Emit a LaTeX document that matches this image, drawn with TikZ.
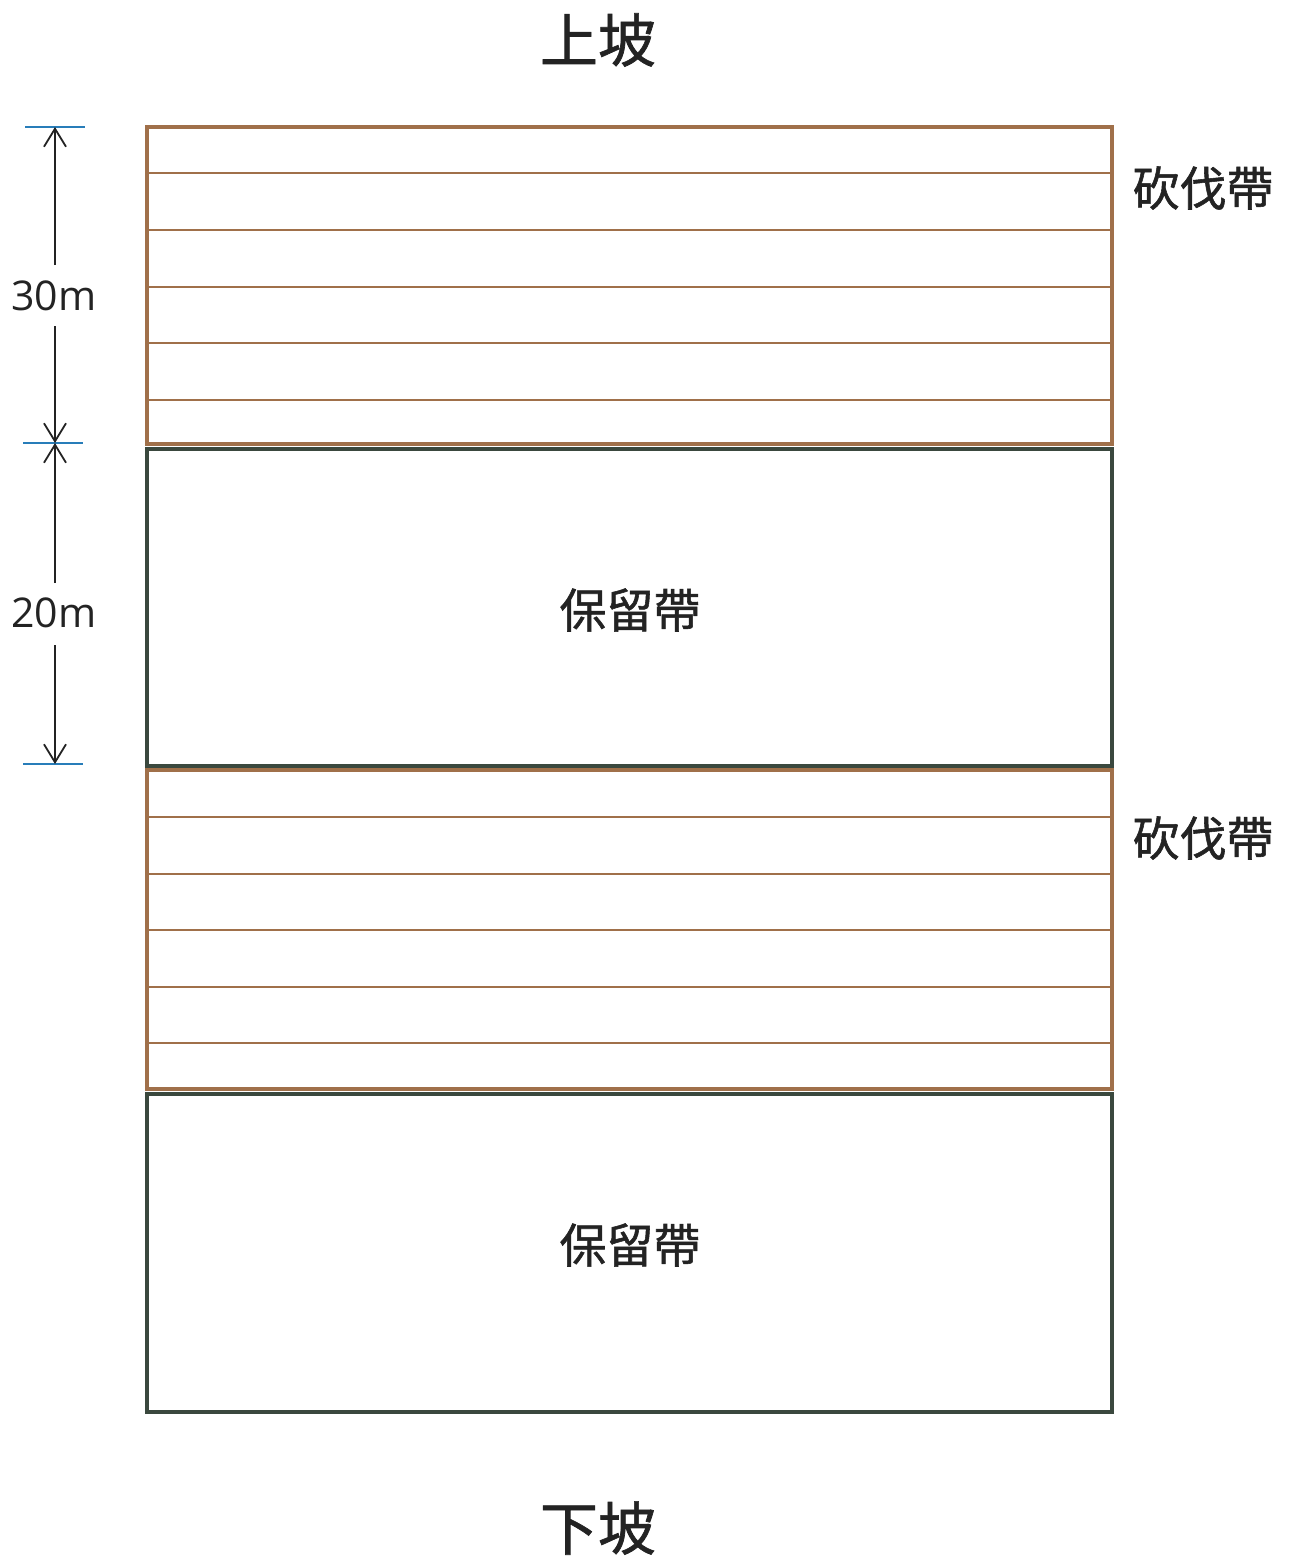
\documentclass[tikz,border=0pt]{standalone}
\usepackage{fontspec}
\newfontfamily\cjk[AutoFakeBold=1.2]{Noto Sans CJK TC}
\setsansfont{Open Sans}
\usetikzlibrary{arrows.meta}
\definecolor{cutbrown}{RGB}{160,112,74}
\definecolor{keepdark}{RGB}{58,72,62}
\definecolor{tickblue}{RGB}{40,125,185}
\definecolor{inkgray}{RGB}{35,35,35}
\tikzset{
  cutzone/.style={draw=cutbrown, line width=3.5pt},
  cutline/.style={draw=cutbrown, line width=1.5pt},
  keepzone/.style={draw=keepdark, line width=3.5pt},
  bigtitle/.style={font=\cjk\bfseries\fontsize{58}{60}\selectfont, text=inkgray, inner sep=0pt},
  zonelabel/.style={font=\cjk\bfseries\fontsize{47}{50}\selectfont, text=inkgray, inner sep=0pt},
  dimlabel/.style={font=\sffamily\fontsize{41}{44}\selectfont, text=inkgray, inner sep=0pt},
  dimtick/.style={draw=tickblue, line width=2pt},
  dimarrow/.style={draw=inkgray, line width=1.8pt, -{Straight Barb[length=18pt,width=22pt,line width=1.8pt]}},
}
\begin{document}
\begin{tikzpicture}[x=1pt,y=-1pt]
\useasboundingbox (0,0) rectangle (1289,1562);
% zones
\draw[cutzone] (147,127) rectangle (1112,444);
\foreach \yy in {173,230,287,343,400} \draw[cutline] (148,\yy) -- (1111,\yy);
\draw[keepzone] (147,449) rectangle (1112,766);
\draw[cutzone] (147,770) rectangle (1112,1089);
\foreach \yy in {817,874,930,987,1043} \draw[cutline] (148,\yy) -- (1111,\yy);
\draw[keepzone] (147,1094) rectangle (1112,1412);
% texts
\node[bigtitle] (up) at (598,40) {上坡};
\node[bigtitle] (down) at (598,1528) {下坡};
\node[zonelabel] (cut1) at (1203,188) {砍伐帶};
\node[zonelabel] (cut2) at (1203,838) {砍伐帶};
\node[zonelabel] (keep1) at (630,610) {保留帶};
\node[zonelabel] (keep2) at (630,1245) {保留帶};
% dimensions
\coordinate (t1) at (55,127);
\coordinate (t2) at (55,443);
\coordinate (t3) at (55,764);
\draw[dimtick] (25,127) -- (85,127);
\draw[dimtick] (23,443) -- (83,443);
\draw[dimtick] (23,764) -- (83,764);
\node[dimlabel] (d30) at (54,296) {30m};
\node[dimlabel] (d20) at (54,613) {20m};
\coordinate (a30t) at (55,265);
\coordinate (a30b) at (55,326);
\coordinate (a20t) at (55,583);
\coordinate (a20b) at (55,645);
\draw[dimarrow] (a30t) -- (t1);
\draw[dimarrow] (a30b) -- (t2);
\draw[dimarrow] (a20t) -- (t2);
\draw[dimarrow] (a20b) -- (t3);
\end{tikzpicture}
\end{document}
